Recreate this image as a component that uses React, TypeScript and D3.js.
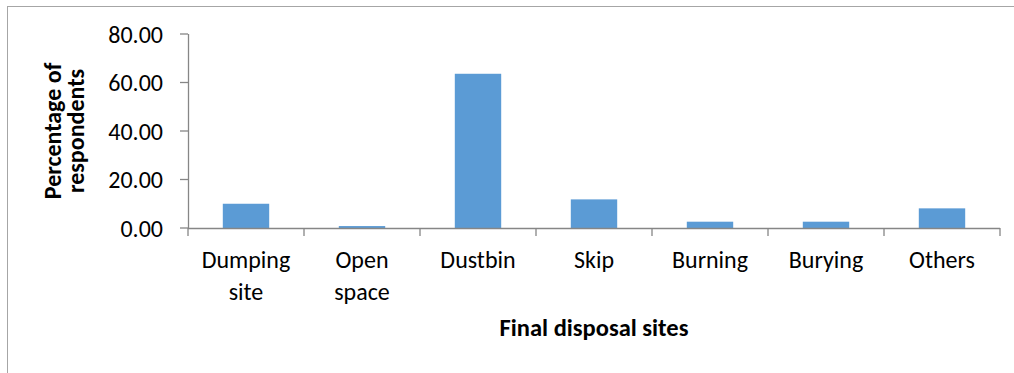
import React from "react";
import * as d3 from "d3";

const categories: string[][] = [
  ["Dumping", "site"],
  ["Open", "space"],
  ["Dustbin"],
  ["Skip"],
  ["Burning"],
  ["Burying"],
  ["Others"],
];
const values: number[] = [10.0, 0.8, 63.6, 11.8, 2.6, 2.6, 8.1];
const yTicks: number[] = [0, 20, 40, 60, 80];
const yTitle: string[] = ["Percentage of", "respondents"];
const xTitle = "Final disposal sites";

const W = 1014;
const H = 373;
const FONT = "Carlito, Calibri, Lato, 'Open Sans', sans-serif";
const AXIS = "#868686";
const BAR = "#5b9bd5";
const LABEL_SIZE = 24;

export default function App() {
  const left = 188;
  const right = 1000;
  const top = 34;
  const bottom = 228;
  const keys = categories.map((_, i) => String(i));
  const x = d3.scaleBand<string>().domain(keys).range([left, right]).paddingInner(0.6).paddingOuter(0.3);
  const y = d3.scaleLinear().domain([0, 80]).range([bottom, top]);
  const step = x.step();

  return (
    <svg
      width={W}
      height={H}
      style={{ position: "absolute", left: 0, top: 0, background: "#fff" }}
      fontFamily={FONT}
    >
      {/* chart area frame */}
      <rect x={7.5} y={6.5} width={W + 10} height={H + 10} fill="none" stroke="#a6a6a6" strokeWidth={1} />

      {/* bars */}
      {values.map((v, i) => (
        <rect
          key={i}
          x={x(String(i))}
          y={y(v)}
          width={x.bandwidth()}
          height={y(0) - y(v)}
          fill={BAR}
        />
      ))}

      {/* y axis */}
      <line x1={left + 0.5} x2={left + 0.5} y1={top} y2={bottom} stroke={AXIS} strokeWidth={1.3} />
      {yTicks.map((t) => (
        <g key={t}>
          <line x1={left - 8} x2={left} y1={y(t)} y2={y(t)} stroke={AXIS} strokeWidth={1.3} />
          <text x={163} y={y(t)} dy="0.36em" textAnchor="end" fontSize={LABEL_SIZE} fill="#000">
            {t.toFixed(2)}
          </text>
        </g>
      ))}

      {/* x axis */}
      <line x1={left} x2={right} y1={bottom + 0.5} y2={bottom + 0.5} stroke={AXIS} strokeWidth={1.3} />
      {d3.range(categories.length + 1).map((i) => (
        <line
          key={i}
          x1={left + i * step}
          x2={left + i * step}
          y1={bottom}
          y2={bottom + 8}
          stroke={AXIS}
          strokeWidth={1.3}
        />
      ))}
      {categories.map((lines, i) => (
        <text
          key={i}
          x={(x(String(i)) ?? 0) + x.bandwidth() / 2}
          y={268}
          textAnchor="middle"
          fontSize={LABEL_SIZE}
          fill="#000"
        >
          {lines.map((l, j) => (
            <tspan key={j} x={(x(String(i)) ?? 0) + x.bandwidth() / 2} dy={j === 0 ? 0 : 32}>
              {l}
            </tspan>
          ))}
        </text>
      ))}

      {/* axis titles */}
      <text
        x={(left + right) / 2}
        y={336}
        textAnchor="middle"
        fontSize={24.5}
        fontWeight="bold"
        fill="#000"
      >
        {xTitle}
      </text>
      <text transform="translate(61,131) rotate(-90)" textAnchor="middle" fontSize={24} fontWeight="bold" fill="#000">
        {yTitle.map((l, j) => (
          <tspan key={j} x={0} dy={j === 0 ? 0 : 23}>
            {l}
          </tspan>
        ))}
      </text>
    </svg>
  );
}
